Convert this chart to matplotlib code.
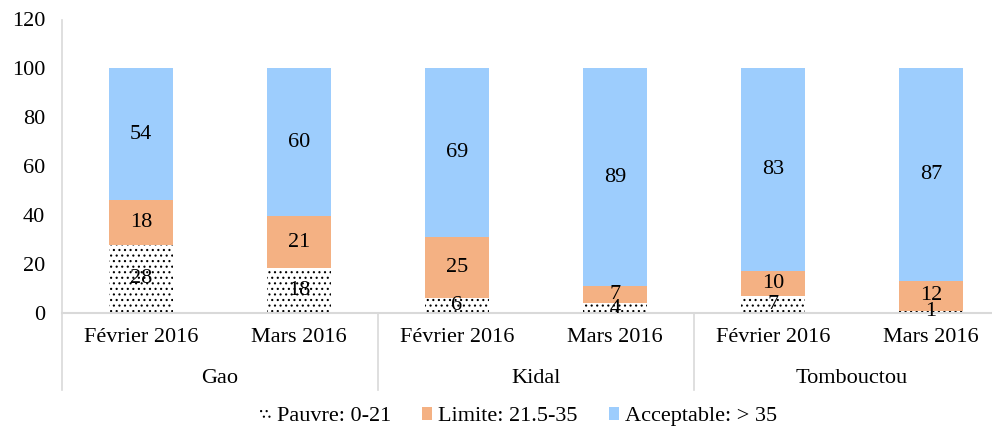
import matplotlib.pyplot as plt
import numpy as np

plt.rcParams['font.family'] = ['Liberation Serif', 'DejaVu Serif']
plt.rcParams['hatch.linewidth'] = 0.8
plt.rcParams['hatch.color'] = 'black'

months = ['Février 2016', 'Mars 2016', 'Février 2016', 'Mars 2016', 'Février 2016', 'Mars 2016']
regions = ['Gao', 'Kidal', 'Tombouctou']
pauvre = [28, 18.4, 6, 4, 7, 1]
limite = [18, 21.2, 25, 7, 10, 12]
acceptable = [54, 60.4, 69, 89, 83, 87]
legend_labels = ['Pauvre: 0-21', 'Limite: 21.5-35', 'Acceptable: > 35']

grey = '#d9d9d9'
orange = '#f4b183'
blue = '#9dcdfd'
fs = 16

fig = plt.figure(figsize=(9.92, 4.32), dpi=100)
ax = fig.add_axes([62 / 992, (432 - 313) / 432, 948 / 992, (313 - 19.5) / 432])

x = np.arange(len(months))
w = 0.4
b1 = ax.bar(x, pauvre, w, color='white', edgecolor='black', linewidth=0, hatch='...')
b2 = ax.bar(x, limite, w, bottom=pauvre, color=orange, linewidth=0)
bottom3 = np.array(pauvre) + np.array(limite)
b3 = ax.bar(x, acceptable, w, bottom=bottom3, color=blue, linewidth=0)

# value labels
for i in range(len(x)):
    ax.text(x[i], pauvre[i] / 2, f"{round(pauvre[i])}", ha='center', va='center', fontsize=fs)
    ax.text(x[i], pauvre[i] + limite[i] / 2, f"{round(limite[i])}", ha='center', va='center', fontsize=fs)
    ax.text(x[i], bottom3[i] + acceptable[i] / 2, f"{round(acceptable[i])}", ha='center', va='center', fontsize=fs)

ax.set_xlim(-0.5, 5.5)
ax.set_ylim(0, 120)
ax.set_yticks(range(0, 121, 20))
ax.set_xticks(x)
ax.set_xticklabels(months, fontsize=fs)
ax.tick_params(axis='y', length=0, labelsize=fs, pad=12)
ax.tick_params(axis='x', length=0, pad=11)

for s in ['top', 'right']:
    ax.spines[s].set_visible(False)
ax.spines['left'].set_color(grey)
ax.spines['bottom'].set_color(grey)
ax.spines['left'].set_linewidth(1.2)
ax.spines['bottom'].set_linewidth(1.5)

# hierarchical category axis
trans = ax.get_xaxis_transform()
for xs in [-0.5, 1.5, 3.5]:
    ax.plot([xs, xs], [0, -0.262], color=grey, lw=1.2, transform=trans, clip_on=False)
for i, r in enumerate(regions):
    ax.text(2 * i + 0.5, -0.222, r, ha='center', va='center', fontsize=fs, transform=trans)

fig.legend([b1, b2, b3], legend_labels, loc='center', bbox_to_anchor=(0.523, 0.035), ncol=3,
           frameon=False, fontsize=fs, handlelength=0.47, handleheight=0.47,
           handletextpad=0.27, columnspacing=1.4)

fig.savefig('out.png', dpi=100)
